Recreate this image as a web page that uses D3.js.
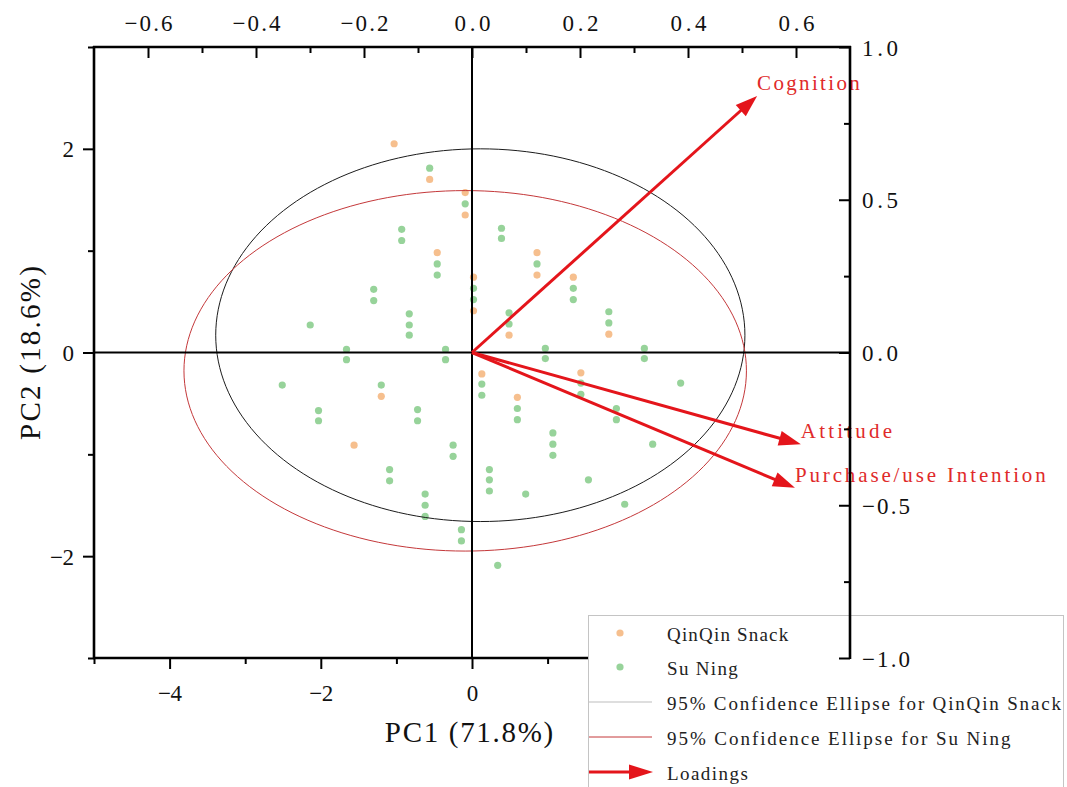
<!DOCTYPE html>
<html>
<head>
<meta charset="utf-8">
<script src="https://cdn.jsdelivr.net/npm/d3@7"></script>
<style>
  body { margin: 0; background: #fff; }
  svg { display: block; }
  text { font-family: "Liberation Serif", "DejaVu Serif", serif; }
</style>
</head>
<body>
<svg id="chart" width="1067" height="787"></svg>
<script>
// PCA scores: QinQin Snack
const qinqinPC1 = [-1.03, -0.56, -0.09, -0.09, -0.46, 0.02, 0.02, 0.86, 0.86, 1.34, 0.49, 1.81, -1.20, -1.56, 0.13, 0.60, 1.44];
const qinqinPC2 = [2.05, 1.70, 1.57, 1.35, 0.98, 0.74, 0.41, 0.98, 0.76, 0.74, 0.17, 0.18, -0.43, -0.91, -0.21, -0.44, -0.20];

// PCA scores: Su Ning
const suningPC1 = [-0.56, -0.09, -0.93, -0.93, -0.46, -0.46, 0.02, 0.02, -1.30, -1.30,
  -0.83, -0.83, -0.83, -2.14, -1.66, -1.66, -0.35, -0.35, 0.39, 0.39,
  0.86, 1.34, 1.34, 0.49, 0.49, 1.81, 1.81, 0.97, 0.97, 2.28,
  2.28, -2.51, -1.20, -2.03, -2.03, -0.72, -0.72, -0.25, -0.25, -1.09,
  -1.09, -0.62, -0.62, -0.62, -0.14, -0.14, 0.13, 0.13, 0.60, 0.60,
  1.44, 1.44, 2.76, 1.91, 1.91, 1.07, 1.07, 1.07, 2.39, 0.23,
  0.23, 0.23, 0.71, 1.54, 2.02, 0.34];
const suningPC2 = [1.81, 1.46, 1.21, 1.10, 0.87, 0.76, 0.63, 0.52, 0.62, 0.51,
  0.38, 0.27, 0.17, 0.27, 0.03, -0.07, 0.03, -0.07, 1.22, 1.12,
  0.87, 0.63, 0.52, 0.39, 0.28, 0.40, 0.29, 0.04, -0.06, 0.04,
  -0.06, -0.32, -0.32, -0.57, -0.67, -0.56, -0.67, -0.91, -1.02, -1.15,
  -1.26, -1.39, -1.50, -1.61, -1.74, -1.85, -0.31, -0.42, -0.55, -0.66,
  -0.30, -0.41, -0.30, -0.55, -0.66, -0.79, -0.90, -1.01, -0.90, -1.15,
  -1.25, -1.36, -1.39, -1.25, -1.49, -2.09];

// Variable loadings
const loadingNames = ["Cognition", "Attitude", "Purchase/use Intention"];
const loadingPC1 = [0.528, 0.609, 0.598];
const loadingPC2 = [0.840, -0.300, -0.443];

// 95% confidence ellipses (centre and semi-axes in score units)
const ellipseGroups = ["QinQin Snack", "Su Ning"];
const ellipseCX = [0.11, -0.09];
const ellipseCY = [0.17, -0.18];
const ellipseRX = [3.50, 3.72];
const ellipseRY = [1.83, 1.77];

// Tick values
const scoreTicksX = [-4, -2, 0, 2, 4];
const scoreMinorX = [-5, -3, -1, 1, 3, 5];
const scoreTicksY = [-2, 0, 2];
const scoreMinorY = [-3, -1, 1, 3];
const loadTicksX = [-0.6, -0.4, -0.2, 0.0, 0.2, 0.4, 0.6];
const loadMinorX = [-0.5, -0.3, -0.1, 0.1, 0.3, 0.5];
const loadTicksY = [-1.0, -0.5, 0.0, 0.5, 1.0];
const loadMinorY = [-0.75, -0.25, 0.25, 0.75];

const colQin = "#f6bf8e";
const colSu = "#97d39a";
const colArrow = "#e4151b";

const svg = d3.select("#chart");
const L = 94, R = 850, T = 47, B = 658;
const legendX = 588.5, legendY = 615.5;

const x = d3.scaleLinear().domain([-5, 5]).range([L, R]);
const y = d3.scaleLinear().domain([-3, 3]).range([B, T]);
const xl = d3.scaleLinear().domain([-0.7, 0.7]).range([L, R]);
const yl = d3.scaleLinear().domain([-1, 1]).range([B, T]);

// half-width serif text: each character gets a fixed advance
function label(g, px, py, str, size, adv, anchor, color, rot) {
  return g.append("text")
    .attr("transform", `translate(${px},${py})${rot ? ` rotate(${rot})` : ""}`)
    .attr("text-anchor", anchor)
    .attr("font-size", size)
    .attr("fill", color)
    .attr("textLength", str.length * adv)
    .attr("lengthAdjust", "spacing")
    .text(str);
}

function styleAxis(g) {
  g.select(".domain").remove();
  g.selectAll(".tick line").attr("stroke", "#000").attr("stroke-width", 2);
  g.attr("font-family", null).attr("font-size", null);
}

function styleTickText(sel, dx, dy, anchor) {
  sel.attr("x", null).attr("y", null).attr("dy", null)
    .attr("transform", `translate(${dx},${dy})`)
    .attr("text-anchor", anchor)
    .attr("font-size", 23).attr("fill", "#111")
    .attr("lengthAdjust", "spacing")
    .attr("textLength", function () { return this.textContent.length * 12; });
}

const fmtScore = d => d3.format("d")(d);
const fmtLoad = d => d3.format(".1f")(d);
// bottom labels that sit under the legend box are not shown
const fmtScoreBottom = d => (x(d) + 10 < legendX ? fmtScore(d) : "");

// score points
svg.append("g").selectAll("circle").data(suningPC1.map((v, i) => [v, suningPC2[i]]))
  .join("circle").attr("cx", d => x(d[0])).attr("cy", d => y(d[1])).attr("r", 3.6).attr("fill", colSu);
svg.append("g").selectAll("circle").data(qinqinPC1.map((v, i) => [v, qinqinPC2[i]]))
  .join("circle").attr("cx", d => x(d[0])).attr("cy", d => y(d[1])).attr("r", 3.6).attr("fill", colQin);

// confidence ellipses
const ellColors = ["#1c1c1c", "#c4383a"];
const angles = d3.range(0, 361, 2).map(a => a * Math.PI / 180);
ellipseGroups.forEach((gname, k) => {
  const line = d3.line()
    .x(t => x(ellipseCX[k] + ellipseRX[k] * Math.cos(t)))
    .y(t => y(ellipseCY[k] + ellipseRY[k] * Math.sin(t)));
  svg.append("path").attr("d", line(angles)).attr("fill", "none")
    .attr("stroke", ellColors[k]).attr("stroke-width", 1);
});

// zero lines
svg.append("line").attr("x1", L).attr("x2", R).attr("y1", y(0)).attr("y2", y(0))
  .attr("stroke", "#000").attr("stroke-width", 2);
svg.append("line").attr("x1", x(0)).attr("x2", x(0)).attr("y1", T).attr("y2", B)
  .attr("stroke", "#000").attr("stroke-width", 2);

// loading arrows
function arrow(g, x0, y0, x1, y1, color, len, half, width) {
  const dx = x1 - x0, dy = y1 - y0, d = Math.hypot(dx, dy);
  const ux = dx / d, uy = dy / d;
  const bx = x1 - ux * len, by = y1 - uy * len;
  g.append("line").attr("x1", x0).attr("y1", y0).attr("x2", bx + ux * 2).attr("y2", by + uy * 2)
    .attr("stroke", color).attr("stroke-width", width);
  g.append("path")
    .attr("d", `M${x1},${y1}L${bx - uy * half},${by + ux * half}L${bx + uy * half},${by - ux * half}Z`)
    .attr("fill", color);
}
const arrows = svg.append("g");
loadingNames.forEach((name, i) => {
  arrow(arrows, xl(0), yl(0), xl(loadingPC1[i]), yl(loadingPC2[i]), colArrow, 22, 7.5, 3);
  label(arrows, xl(loadingPC1[i]), yl(loadingPC2[i]) - 6, name, 21, 11.4, "start", "#e02a2a");
});

// bottom axis (PC1 scores)
const gb = svg.append("g").attr("transform", `translate(0,${B})`);
gb.append("g").call(d3.axisBottom(x).tickValues(scoreMinorX).tickSize(6).tickFormat("")).call(styleAxis);
gb.append("g").call(d3.axisBottom(x).tickValues(scoreTicksX).tickSize(11).tickFormat(fmtScoreBottom)).call(styleAxis)
  .selectAll("text").call(styleTickText, 0, 43, "middle");
gb.selectAll("text").filter(function () { return this.textContent === ""; }).remove();

// left axis (PC2 scores)
const gl = svg.append("g").attr("transform", `translate(${L},0)`);
gl.append("g").call(d3.axisLeft(y).tickValues(scoreMinorY).tickSize(6).tickFormat("")).call(styleAxis);
gl.append("g").call(d3.axisLeft(y).tickValues(scoreTicksY).tickSize(11).tickFormat(fmtScore)).call(styleAxis)
  .selectAll("text").call(styleTickText, -20, 8, "end");

// top axis (PC1 loadings)
const gt = svg.append("g").attr("transform", `translate(0,${T})`);
gt.append("g").call(d3.axisTop(xl).tickValues(loadMinorX).tickSizeInner(-6).tickSizeOuter(0).tickFormat("")).call(styleAxis);
gt.append("g").call(d3.axisTop(xl).tickValues(loadTicksX).tickSizeInner(-11).tickSizeOuter(0).tickFormat(fmtLoad)).call(styleAxis)
  .selectAll("text").call(styleTickText, 0, -16, "middle");

// frame: left, top and bottom edges
svg.append("line").attr("x1", L).attr("x2", L).attr("y1", T - 1).attr("y2", B + 1).attr("stroke", "#000").attr("stroke-width", 2.6);
svg.append("line").attr("x1", L - 1).attr("x2", R + 1).attr("y1", T).attr("y2", T).attr("stroke", "#000").attr("stroke-width", 2.6);
svg.append("line").attr("x1", L - 1).attr("x2", R).attr("y1", B).attr("y2", B).attr("stroke", "#000").attr("stroke-width", 2.6);

// axis titles
label(svg, 469, 742, "PC1 (71.8%)", 29, 15.3, "middle", "#111");
label(svg, 40, 353, "PC2 (18.6%)", 29, 15.8, "middle", "#111", -90);

// legend
const lg = svg.append("g");
lg.append("rect").attr("x", legendX).attr("y", legendY).attr("width", 475).attr("height", 200)
  .attr("fill", "#fff").attr("stroke", "#c4c4c4").attr("stroke-width", 1);
const legendRows = [
  { type: "dot", color: colQin, text: "QinQin Snack", y: 633 },
  { type: "dot", color: colSu, text: "Su Ning", y: 667 },
  { type: "line", color: "#bdbdbd", text: "95% Confidence Ellipse for QinQin Snack", y: 702 },
  { type: "line", color: "#c4383a", text: "95% Confidence Ellipse for Su Ning", y: 737 },
  { type: "arrow", color: colArrow, text: "Loadings", y: 772 }
];
legendRows.forEach(r => {
  if (r.type === "dot") lg.append("circle").attr("cx", 620).attr("cy", r.y).attr("r", 3.6).attr("fill", r.color);
  else if (r.type === "line") lg.append("line").attr("x1", 589).attr("x2", 652).attr("y1", r.y).attr("y2", r.y)
    .attr("stroke", r.color).attr("stroke-width", 1);
  else arrow(lg, 589, r.y, 653, r.y, r.color, 24, 7.5, 3);
  label(lg, 667, r.y + 8, r.text, 19, 10.1, "start", "#222");
});

// right axis (PC2 loadings), drawn over the legend
const gr = svg.append("g").attr("transform", `translate(${R},0)`);
gr.append("g").call(d3.axisRight(yl).tickValues(loadMinorY).tickSizeInner(-6).tickSizeOuter(0).tickFormat("")).call(styleAxis);
gr.append("g").call(d3.axisRight(yl).tickValues(loadTicksY).tickSizeInner(-11).tickSizeOuter(0).tickFormat(fmtLoad)).call(styleAxis)
  .selectAll("text").call(styleTickText, 12, 8, "start");
svg.append("line").attr("x1", R).attr("x2", R).attr("y1", T - 1).attr("y2", B + 1).attr("stroke", "#000").attr("stroke-width", 2.6);
</script>
</body>
</html>
